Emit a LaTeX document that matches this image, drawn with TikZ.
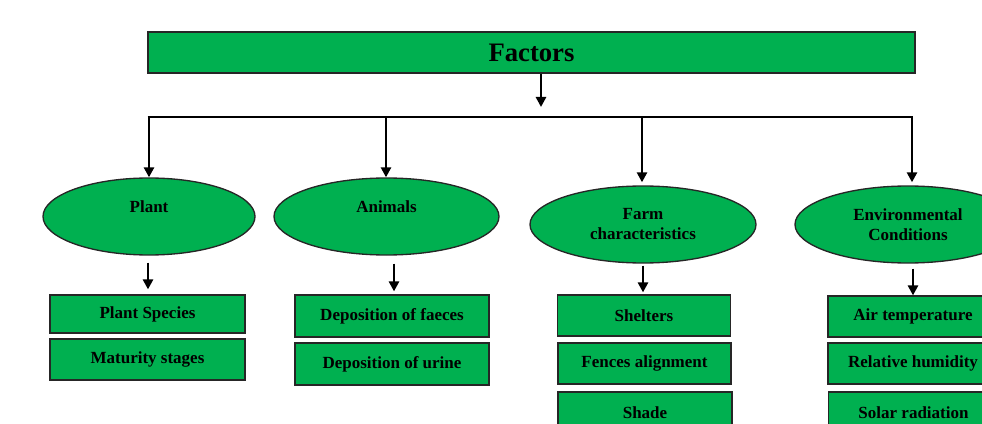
\documentclass[tikz,border=0pt]{standalone}
\usepackage{fontspec}
\setmainfont{Liberation Serif}
\usetikzlibrary{shapes.geometric,arrows.meta}
\definecolor{grn}{HTML}{00B050}
\definecolor{edge}{HTML}{262626}
\begin{document}
\begin{tikzpicture}[x=0.75pt,y=-0.75pt,
  txt/.style={font=\fontsize{12.75}{15}\selectfont\bfseries, align=center, text=black},
  box/.style={txt, draw=edge, line width=0.9pt, fill=grn, inner sep=0pt},
  ell/.style={txt, ellipse, draw=edge, line width=1pt, fill=grn, inner sep=0pt, minimum height=57.75pt},
  arr/.style={line width=2pt, -{Triangle[width=7.5pt,length=7.5pt]}},
  bus/.style={line width=2.2pt}]
\useasboundingbox (0,0) rectangle (982,424);
\clip (0,0) rectangle (982,424);

% top box
\node[box, minimum width=575.25pt, minimum height=30.75pt, font=\fontsize{20}{24}\selectfont\bfseries] (factors) at (531.5,52.5) {Factors};

% ellipses
\node[ell, minimum width=159pt] (plant) at (149,216.5) {Plant\\\mbox{}};
\node[ell, minimum width=168.75pt] (animals) at (386.5,216.5) {Animals\\\mbox{}};
\node[ell, minimum width=169.5pt] (farm) at (643,224.5) {Farm\\characteristics};
\node[ell, minimum width=169.5pt] (env) at (908,224.5) {Environmental\\Conditions};

% boxes
\node[box, minimum width=146.25pt, minimum height=28.5pt] (ps) at (147.5,314) {Plant Species};
\node[box, minimum width=146.25pt, minimum height=30.75pt] (ms) at (147.5,359.5) {Maturity stages};
\node[box, minimum width=145.5pt, minimum height=31.5pt] (df) at (392,316) {Deposition of faeces};
\node[box, minimum width=145.5pt, minimum height=31.5pt] (du) at (392,364) {Deposition of urine};
\node[box, minimum width=129.75pt, minimum height=30.75pt] (sh) at (644,315.5) {Shelters};
\node[box, minimum width=129.75pt, minimum height=30.75pt] (fa) at (644.5,363.5) {Fences alignment};
\node[box, minimum width=130.5pt, minimum height=30.75pt] (sd) at (645,412.5) {Shade};
\node[box, minimum width=127.5pt, minimum height=30.75pt] (at) at (913,316.5) {Air temperature};
\node[box, minimum width=127.5pt, minimum height=30.75pt] (rh) at (913,363.5) {Relative humidity};
\node[box, minimum width=127.5pt, minimum height=30.75pt] (sr) at (913.5,412.5) {Solar radiation};

% bus
\coordinate (fx) at (541,107);
\coordinate (b1) at (149,117);
\coordinate (b2) at (386,117);
\coordinate (b3) at (642,117);
\coordinate (b4) at (912,117);
\draw[arr] (factors.south -| fx) -- (fx);
\draw[bus] ([xshift=-1pt]b1) -- ([xshift=1pt]b4);
\draw[arr] (b1) -- (plant.north -| b1);
\draw[arr] (b2) -- (animals.north -| b2);
\draw[arr, shorten >=2.25pt] (b3) -- (farm.north -| b3);
\draw[arr, shorten >=2.25pt] (b4) -- (env.north -| b4);

% ellipse to box arrows
\coordinate (e1) at (148,0);
\coordinate (e2) at (394,0);
\coordinate (e3) at (643,0);
\coordinate (e4) at (913,0);
\draw[arr, shorten <=5.25pt, shorten >=3.75pt] (plant.south -| e1) -- (ps.north -| e1);
\draw[arr, shorten <=6pt, shorten >=2.25pt] (animals.south -| e2) -- (df.north -| e2);
\draw[arr, shorten <=1.5pt, shorten >=1.5pt] (farm.south -| e3) -- (sh.north -| e3);
\draw[arr, shorten <=3.75pt] (env.south -| e4) -- (at.north -| e4);
\end{tikzpicture}
\end{document}
